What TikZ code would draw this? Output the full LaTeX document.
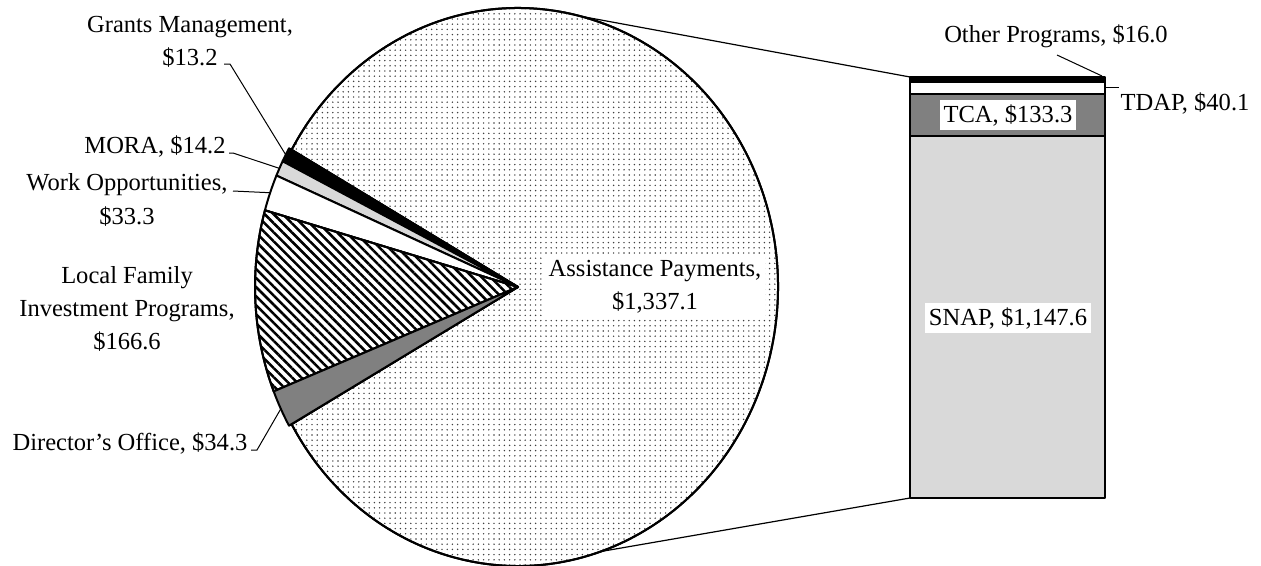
\documentclass[tikz,border=0pt]{standalone}
\usepackage{fontspec}
\setmainfont{Liberation Serif}
\usetikzlibrary{patterns.meta}
\definecolor{lgray}{HTML}{D9D9D9}
\definecolor{mgray}{HTML}{808080}
\begin{document}
\begin{tikzpicture}[x=0.75pt,y=-0.75pt,
  lab/.style={font=\fontsize{18.4}{25}\selectfont, align=center, inner sep=1pt},
  slice/.style={draw=black, line width=1.5pt, line join=round},
  leader/.style={draw=black, line width=0.75pt},
  conn/.style={draw=black, line width=0.9pt}]
\useasboundingbox (0,0) rectangle (1261,565);
\coordinate (C) at (518,287);
% big slice
\path[slice, fill=white]
  (C) -- ++(150.546:260 and 279) arc[start angle=150.546, end angle=-150.546, x radius=260, y radius=279] -- cycle;
\path[slice, pattern={Dots[distance=3.9pt,radius=0.6pt]}, pattern color=black!75]
  (C) -- ++(150.546:260 and 279) arc[start angle=150.546, end angle=-150.546, x radius=260, y radius=279] -- cycle;
% small slices
\path[slice, fill=black]
  (C) -- ++(-150.546:263 and 282) arc[start angle=-150.546, end angle=-153.518, x radius=263, y radius=282] -- cycle;
\path[slice, fill=lgray]
  (C) -- ++(-153.518:263 and 282) arc[start angle=-153.518, end angle=-156.716, x radius=263, y radius=282] -- cycle;
\path[slice, fill=white]
  (C) -- ++(-156.716:263 and 282) arc[start angle=-156.716, end angle=-164.215, x radius=263, y radius=282] -- cycle;
\path[slice, fill=white]
  (C) -- ++(-164.215:263 and 282) arc[start angle=-164.215, end angle=-201.730, x radius=263, y radius=282] -- cycle;
\path[slice, pattern={Lines[angle=-45,distance=4.8pt,line width=1.9pt]}, pattern color=black]
  (C) -- ++(-164.215:263 and 282) arc[start angle=-164.215, end angle=-201.730, x radius=263, y radius=282] -- cycle;
\path[slice, fill=mgray]
  (C) -- ++(-201.730:263 and 282) arc[start angle=-201.730, end angle=-209.454, x radius=263, y radius=282] -- cycle;
% points on pie
\path (C) ++(-152.03:263 and 282) coordinate (gmpt);
\path (C) ++(-155.12:263 and 282) coordinate (morapt);
\path (C) ++(-160.47:263 and 282) coordinate (wopt);
\path (C) ++(-205.59:263 and 282) coordinate (dopt);
\path (C) ++(-76:260 and 279) coordinate (pietop);
\path (C) ++(71.5:260 and 279) coordinate (piebot);
% bar
\path[slice, fill=lgray] (910,136) rectangle (1105,498);
\path[slice, fill=mgray] (910,94) rectangle (1105,136);
\path[slice, fill=white] (910,82) rectangle (1105,94);
\path[slice, fill=black] (910,77) rectangle (1105,82);
\coordinate (bartl) at (910,77);
\coordinate (barbl) at (910,498);
\draw[conn] (pietop) -- (bartl);
\draw[conn] (piebot) -- (barbl);
% labels
\node[lab] (gm) at (190,42) {Grants Management,\\\$13.2};
\node[lab] (mora) at (155,146) {MORA, \$14.2};
\node[lab] (wo) at (127,200) {Work Opportunities,\\\$33.3};
\node[lab] (lfip) at (127,309) {Local Family\\Investment Programs,\\\$166.6};
\node[lab] (do) at (130,443) {Director’s Office, \$34.3};
\node[lab, fill=white, inner sep=3pt] (ap) at (655,287) {Assistance Payments,\\\$1,337.1};
\node[lab, fill=white, inner sep=3pt] (tca) at (1008,115) {TCA, \$133.3};
\node[lab, fill=white, inner sep=3pt] (snap) at (1008,318) {SNAP, \$1,147.6};
\node[lab] (tdap) at (1185,103) {TDAP, \$40.1};
\node[lab] (oth) at (1056,36) {Other Programs, \$16.0};
% leaders
\coordinate (gms) at (224,64);
\coordinate (moras) at (229,153);
\coordinate (wos) at (233,191);
\coordinate (dos) at (251,450);
\coordinate (tdaps) at (1119,87);
\coordinate (tdape) at (1105,87);
\coordinate (oths) at (1057,55);
\coordinate (othe) at (1102,76);
\draw[leader] (gms) -- ++(6,0) -- (gmpt);
\draw[leader] (moras) -- ++(4,0) -- (morapt);
\draw[leader] (wos) -- (wopt);
\draw[leader] (dos) -- ++(6,0) -- (dopt);
\draw[leader] (tdape) -- (tdaps);
\draw[leader] (oths) -- (othe);
\end{tikzpicture}
\end{document}
